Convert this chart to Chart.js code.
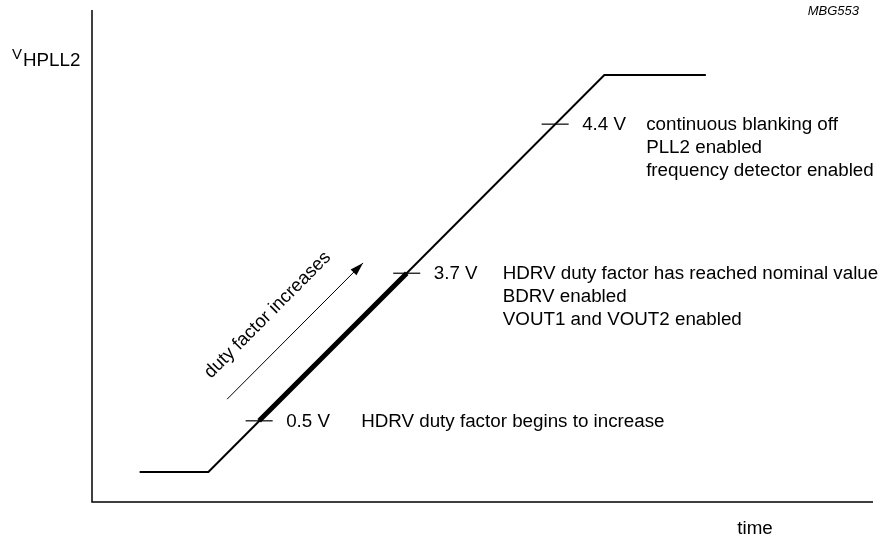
<!DOCTYPE html>
<html>
<head>
<meta charset="utf-8">
<title>MBG553</title>
<script src="https://cdn.jsdelivr.net/npm/chart.js@4.4.1/dist/chart.umd.min.js"></script>
<style>
  html, body { margin: 0; padding: 0; background: #fff; }
  #wrap { width: 883px; height: 542px; }
</style>
</head>
<body>
<div id="wrap"><canvas id="vChart"></canvas></div>
<script>
// V_HPLL2 ramp, schematic units (time 0-100, level 0-100)
const rampTime = [6.1, 14.9, 65.6, 78.6];
const rampLevel = [6.1, 6.1, 86.8, 86.8];

// threshold marks on the ramp
const thresholdLabels = ['0.5 V', '3.7 V', '4.4 V'];
const thresholdLevel = [16.5, 46.5, 76.8];
const thresholdTime = [21.4, 40.3, 59.3];
const thresholdNotes = [
  ['HDRV duty factor begins to increase'],
  ['HDRV duty factor has reached nominal value', 'BDRV enabled', 'VOUT1 and VOUT2 enabled'],
  ['continuous blanking off', 'PLL2 enabled', 'frequency detector enabled']
];

// duty factor arrow
const arrowTime = [17.3, 34.7];
const arrowLevel = [20.9, 48.6];
const arrowText = 'duty factor increases';

const FONT = "'Liberation Sans', Arial, Helvetica, sans-serif";
const TICK_HALF = 1.73;

function pts(xs, ys) {
  return xs.map((x, i) => ({ x: x, y: ys[i] }));
}

const datasets = [
  { data: pts(rampTime, rampLevel), borderColor: '#000', borderWidth: 2 },
  { data: pts(thresholdTime.slice(0, 2), thresholdLevel.slice(0, 2)), borderColor: '#000', borderWidth: 5, borderCapStyle: 'butt' },
  { data: pts(arrowTime, arrowLevel), borderColor: '#000', borderWidth: 1 }
];
thresholdTime.forEach((t, i) => {
  datasets.push({
    data: [{ x: t - TICK_HALF, y: thresholdLevel[i] }, { x: t + TICK_HALF, y: thresholdLevel[i] }],
    borderColor: '#000',
    borderWidth: 1.2
  });
});

// axes, arrow head and all the texts
const drawing = {
  id: 'drawing',
  afterDraw(chart) {
    const c = chart.ctx;
    const a = chart.chartArea;
    const xs = chart.scales.x, ys = chart.scales.y;
    c.save();
    c.strokeStyle = '#000';
    c.fillStyle = '#000';

    // axis lines
    c.lineWidth = 1.5;
    c.beginPath();
    c.moveTo(a.left, a.top);
    c.lineTo(a.left, a.bottom);
    c.lineTo(a.right, a.bottom);
    c.stroke();

    // arrow head
    const x0 = xs.getPixelForValue(arrowTime[0]), y0 = ys.getPixelForValue(arrowLevel[0]);
    const x1 = xs.getPixelForValue(arrowTime[1]), y1 = ys.getPixelForValue(arrowLevel[1]);
    const ang = Math.atan2(y1 - y0, x1 - x0);
    c.beginPath();
    c.moveTo(x1, y1);
    c.lineTo(x1 - 14 * Math.cos(ang - 0.3), y1 - 14 * Math.sin(ang - 0.3));
    c.lineTo(x1 - 14 * Math.cos(ang + 0.3), y1 - 14 * Math.sin(ang + 0.3));
    c.closePath();
    c.fill();

    // rotated arrow text
    c.save();
    c.translate(xs.getPixelForValue(22.5), ys.getPixelForValue(38.0));
    c.rotate(ang);
    c.font = '18.5px ' + FONT;
    c.textAlign = 'center';
    c.textBaseline = 'middle';
    c.fillText(arrowText, 0, 0);
    c.restore();

    // threshold labels and notes
    const noteOffset = [102, 96, 91];
    c.font = '18.8px ' + FONT;
    c.textAlign = 'left';
    c.textBaseline = 'middle';
    thresholdLabels.forEach((lab, i) => {
      const px = xs.getPixelForValue(thresholdTime[i]);
      const py = ys.getPixelForValue(thresholdLevel[i]);
      c.fillText(lab, px + 27, py + 1);
      thresholdNotes[i].forEach((line, j) => {
        c.fillText(line, px + noteOffset[i], py + 1 + j * 22.8);
      });
    });

    // axis titles
    c.font = '15px ' + FONT;
    c.fillText('V', 12, 55);
    c.font = '18.8px ' + FONT;
    c.fillText('HPLL2', 23, 61);
    c.textAlign = 'center';
    c.fillText('time', 755, 529);

    // figure code
    c.font = 'italic 13px ' + FONT;
    c.textAlign = 'right';
    c.fillText('MBG553', 859, 11);
    c.restore();
  }
};

new Chart(document.getElementById('vChart'), {
  type: 'line',
  data: { datasets: datasets },
  options: {
    responsive: true,
    maintainAspectRatio: false,
    animation: false,
    layout: { padding: { left: 92, right: 10, top: 10, bottom: 40 } },
    elements: {
      point: { radius: 0, hoverRadius: 0 },
      line: { tension: 0, fill: false }
    },
    plugins: {
      legend: { display: false },
      tooltip: { enabled: false }
    },
    scales: {
      x: { type: 'linear', min: 0, max: 100, display: false },
      y: { type: 'linear', min: 0, max: 100, display: false }
    }
  },
  plugins: [drawing]
});
</script>
</body>
</html>
